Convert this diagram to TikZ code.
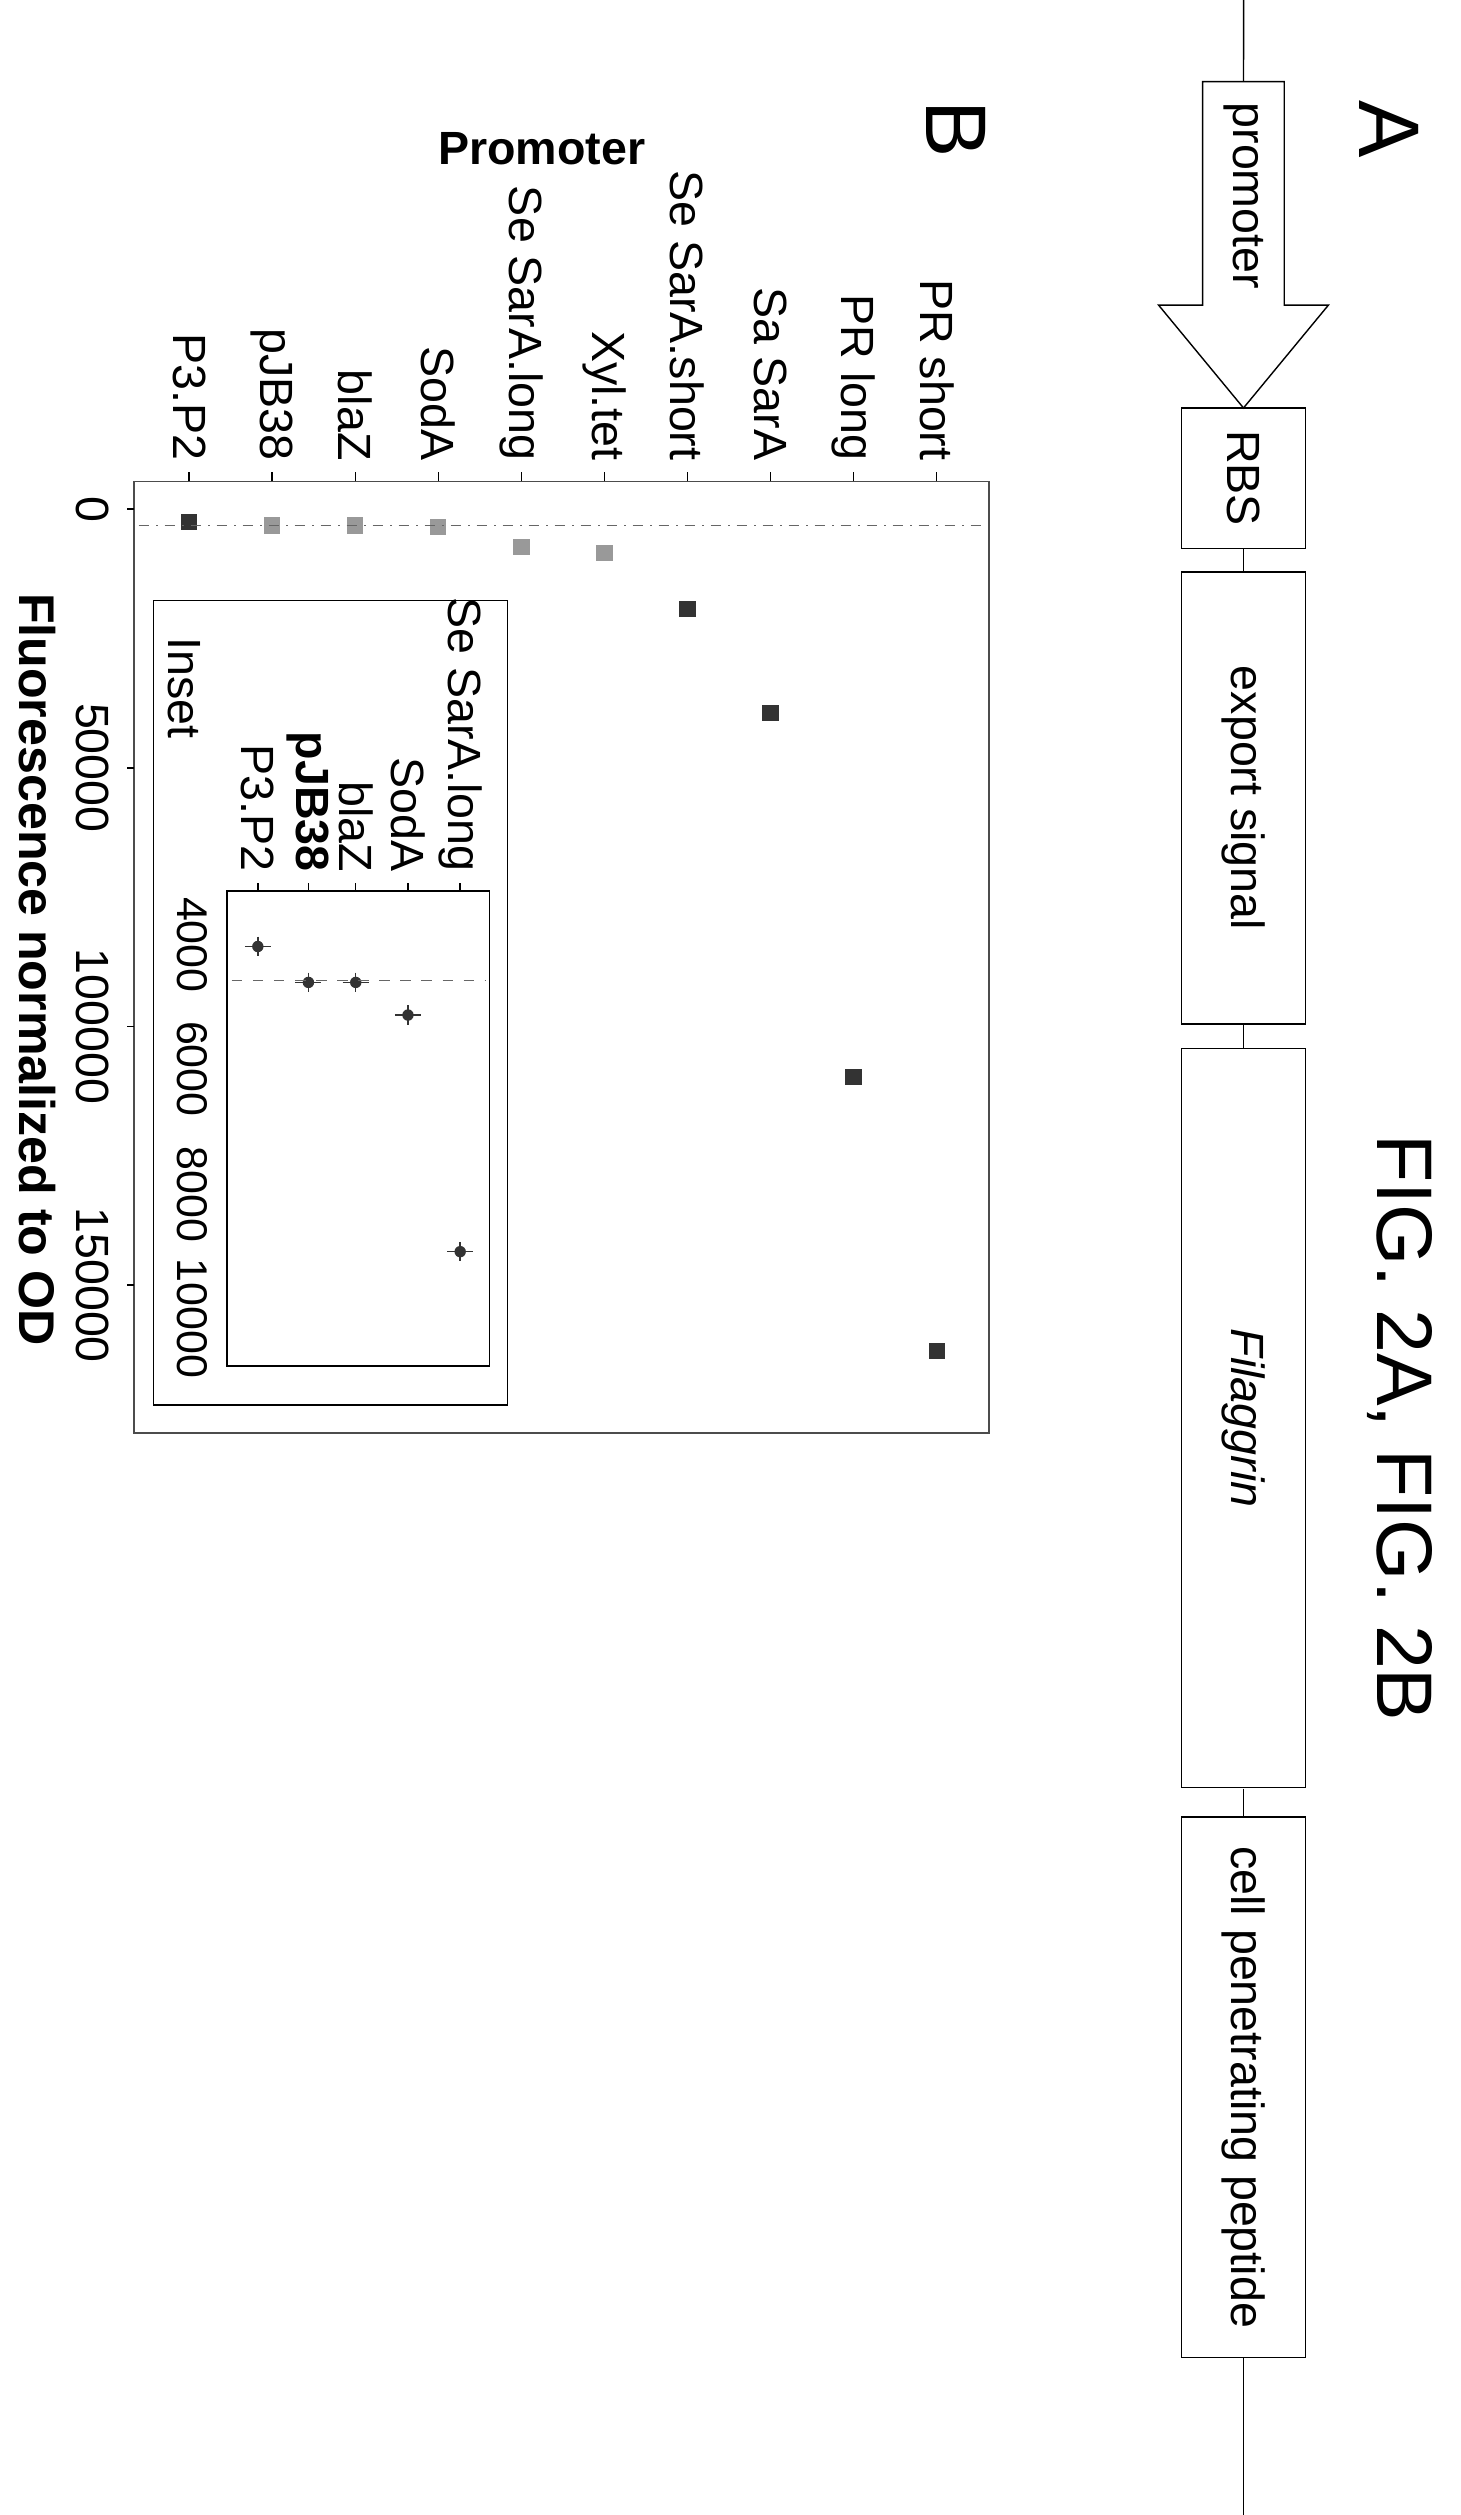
\documentclass[tikz,border=0pt]{standalone}
\usepackage{fontspec}
\setmainfont{Liberation Sans}
\begin{document}
\begin{tikzpicture}[x=0.016cm,y=-0.016cm,
    gene/.style={draw,rotate=-90,minimum height=1.22cm,inner sep=0pt,font=\fontsize{13}{15}\selectfont},
    lbl/.style={rotate=-90,font=\fontsize{13}{15}\selectfont,inner sep=2pt},
    pt/.style={fill=black!80,minimum size=0.16cm,inner sep=0pt},
    ptg/.style={fill=black!40,minimum size=0.16cm,inner sep=0pt}]
    \useasboundingbox (0,0) rectangle (913,1572);
  \begin{scope}[scale=1.02,transform shape]

    % panel A
    \node[rotate=-90,font=\fontsize{24}{26}\selectfont] (lblA) at (851,79) {A};
    \node[rotate=-90,font=\fontsize{22}{26}\selectfont] (fig) at (858,875) {FIG. 2A, FIG. 2B};

    \coordinate (top) at (762,0);
    \coordinate (bot) at (762,1545);
    \draw (737,50) -- (787,50) -- (787,187) -- (814,187) -- (762,250) -- (710,187) -- (737,187) -- cycle;
    \node[lbl] (prom) at (762,120) {promoter};
    \node[gene,minimum width=1.38cm] (rbs) at (762,293) {RBS};
    \node[gene,minimum width=4.43cm] (exp) at (762,489) {export signal};
    \node[gene,minimum width=7.25cm] (fil) at (762,869) {\itshape Filaggrin};
    \node[gene,minimum width=5.30cm] (cpp) at (762,1279) {cell penetrating peptide};
    \draw (top) -- (762,50);
    \draw (rbs.east) -- (exp.west);
    \draw (exp.east) -- (fil.west);
    \draw (fil.east) -- (cpp.west);
    \draw (cpp.east) -- (bot);

    % panel B
    \node[rotate=-90,font=\fontsize{24}{26}\selectfont] (lblB) at (586,79) {B};
    \node[font=\bfseries\fontsize{13}{15}\selectfont] (ptitle) at (332,91) {Promoter};
    \node[lbl,font=\bfseries\fontsize{14}{16}\selectfont] (xtitle) at (23,594) {Fluorescence normalized to OD};
    \draw[black!70] (82,295) rectangle (606,878);
    \foreach \v/\t in {0/0,50/50000,100/100000,150/150000}{
        \pgfmathsetmacro\yy{312+\v*3.17}
        \draw (82,\yy) -- (78,\yy);
        \node[lbl] at (57,\yy) {\t};
    }
    \foreach \n/\t/\yy/\s [count=\i from 0] in {PRs/PR short/828/pt,PRl/PR long/660/pt,SaS/Sa SarA/437/pt,
        SeSs/Se SarA.short/373/pt,Xyl/Xyl.tet/339/ptg,SeSl/Se SarA.long/335/ptg,Sod/SodA/323/ptg,
        bla/blaZ/322/ptg,pJB/pJB38/322/ptg,P3/P3.P2/320/pt}{
        \pgfmathsetmacro\xx{574-\i*50.9}
        \draw (\xx,295) -- (\xx,289);
        \node[lbl,anchor=east] (c\n) at (\xx,287) {\t};
        \node[\s] (d\n) at (\xx,\yy) {};
    }
    \draw[black!60,dash dot] (85,322) -- (603,322);

    % inset
    \draw (94,368) rectangle (311,861);
    \draw (139,546) rectangle (300,837);
    \node[lbl,anchor=west] (inset) at (113,386) {Inset};
    \foreach \v/\yy in {4000/579,6000/655,8000/732,10000/808}{
        \node[lbl,font=\fontsize{12}{14}\selectfont] at (118,\yy) {\v};
    }
    \foreach \n/\t/\xx/\yy in {iSeSl/Se SarA.long/282/767,iSod/SodA/250/622,
        ibla/blaZ/218/602,ipJB/\textbf{pJB38}/189/602,iP3/P3.P2/158/580}{
        \draw (\xx,546) -- (\xx,541);
        \node[lbl,anchor=east] (\n) at (\xx,539) {\t};
        \fill[black!80] (\xx,\yy) circle (3.5);
        \draw[black!80] (\xx-8,\yy) -- (\xx+8,\yy) (\xx,\yy-6) -- (\xx,\yy+6);
    }
    \draw[black!60,dashed] (142,601) -- (298,601);
  \end{scope}
\end{tikzpicture}
\end{document}
